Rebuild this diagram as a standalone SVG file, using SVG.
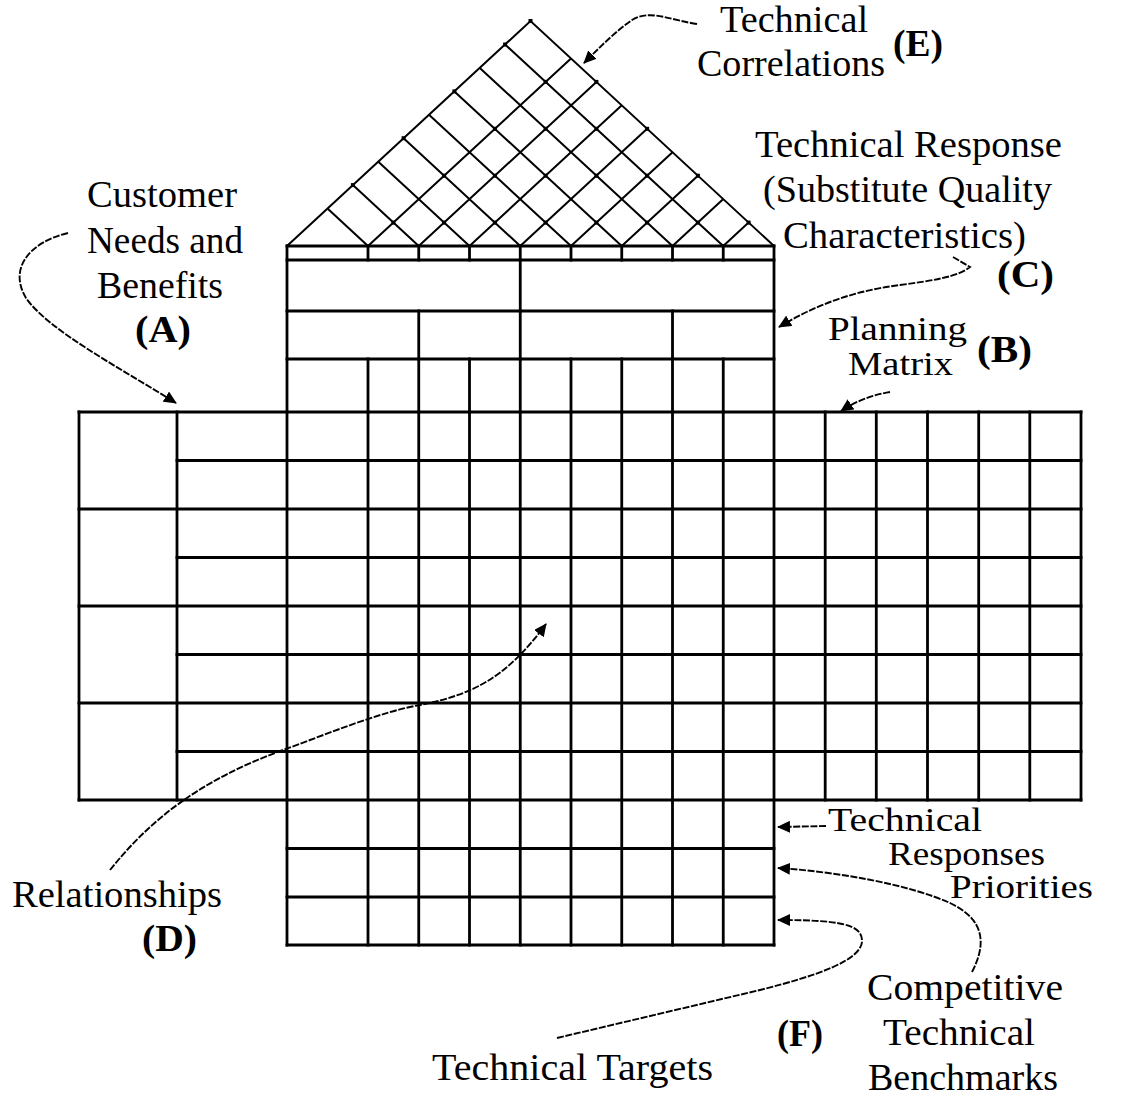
<svg xmlns="http://www.w3.org/2000/svg" width="1121" height="1099" viewBox="0 0 1121 1099">
<style>
.g{stroke:#000;stroke-width:2.8;fill:none;stroke-linecap:square}
.lat{stroke:#000;stroke-width:2;fill:none}
.dot{fill:#000}
.conn{stroke:#000;stroke-width:1.9;fill:none;stroke-dasharray:7 1.6}
.t{font-family:"Liberation Serif","Times New Roman",serif;font-size:38px;fill:#000}
.s{font-size:33px}
.b{font-weight:bold}
</style>
<defs>
<marker id="ah" markerUnits="userSpaceOnUse" markerWidth="14" markerHeight="12" refX="12" refY="6" orient="auto">
<path d="M0,0 L13,6 L0,12 z" fill="#000"/>
</marker>
</defs>
<rect width="1121" height="1099" fill="#fff"/>

<g id="roof-correlations">
<path class="lat" d="M287,246 L530.5,21 L774,246"/>
<path class="lat" d="M368,246 L571,58.4 M418.75,246 L596.4,81.9 M469.5,246 L621.8,105.3 M520.25,246 L647.1,128.8 M571,246 L672.5,152.2 M621.75,246 L697.9,175.7 M672.5,246 L723.3,199.1 M723.25,246 L748.6,222.6"/>
<path class="lat" d="M368,246 L327.5,208.6 M418.75,246 L352.9,185.1 M469.5,246 L378.3,161.7 M520.25,246 L403.6,138.2 M571,246 L429,114.8 M621.75,246 L454.4,91.4 M672.5,246 L479.8,67.9 M723.25,246 L505.1,44.5"/>
<g class="dot">
<rect x="528.5" y="19" width="4" height="4"/>
<rect x="350.9" y="183.1" width="4" height="4"/><rect x="401.6" y="136.2" width="4" height="4"/><rect x="452.4" y="89.4" width="4" height="4"/><rect x="503.1" y="42.5" width="4" height="4"/>
<rect x="391.4" y="220.6" width="4" height="4"/><rect x="442.1" y="220.6" width="4" height="4"/><rect x="492.9" y="220.6" width="4" height="4"/><rect x="543.6" y="220.6" width="4" height="4"/><rect x="594.4" y="220.6" width="4" height="4"/><rect x="645.1" y="220.6" width="4" height="4"/><rect x="695.9" y="220.6" width="4" height="4"/><rect x="746.6" y="220.6" width="4" height="4"/>
<rect x="442.1" y="173.7" width="4" height="4"/><rect x="492.9" y="173.7" width="4" height="4"/><rect x="543.6" y="173.7" width="4" height="4"/><rect x="594.4" y="173.7" width="4" height="4"/><rect x="645.1" y="173.7" width="4" height="4"/><rect x="695.9" y="173.7" width="4" height="4"/>
<rect x="492.9" y="126.8" width="4" height="4"/><rect x="543.6" y="126.8" width="4" height="4"/><rect x="594.4" y="126.8" width="4" height="4"/><rect x="645.1" y="126.8" width="4" height="4"/>
<rect x="543.6" y="79.9" width="4" height="4"/><rect x="594.4" y="79.9" width="4" height="4"/>
</g>
</g>

<g id="technical-response">
<path class="g" d="M287,246 H774 M287,260 H774 M287,311 H774 M287,359 H774"/>
<path class="g" d="M368,246 V260 M418.75,246 V260 M469.5,246 V260 M520.25,246 V260 M571,246 V260 M621.75,246 V260 M672.5,246 V260 M723.25,246 V260"/>
<path class="g" d="M520.25,260 V311"/>
<path class="g" d="M418.75,311 V359 M520.25,311 V359 M672.5,311 V359"/>
<path class="g" d="M368,359 V412 M418.75,359 V412 M469.5,359 V412 M520.25,359 V412 M571,359 V412 M621.75,359 V412 M672.5,359 V412 M723.25,359 V412"/>
</g>

<g id="customer-needs">
<path class="g" d="M79,412 V800 M177,412 V800"/>
</g>

<g id="relationships-matrix">
<path class="g" d="M79,412 H1081 M79,509 H1081 M79,606 H1081 M79,703 H1081 M79,800 H1081"/>
<path class="g" d="M177,460.5 H1081 M177,557.5 H1081 M177,654.5 H1081 M177,751.5 H1081"/>
<path class="g" d="M287,246 V945 M774,246 V945"/>
<path class="g" d="M368,412 V945 M418.75,412 V945 M469.5,412 V945 M520.25,412 V945 M571,412 V945 M621.75,412 V945 M672.5,412 V945 M723.25,412 V945"/>
</g>

<g id="planning-matrix">
<path class="g" d="M825.2,412 V800 M876.3,412 V800 M927.5,412 V800 M978.7,412 V800 M1029.8,412 V800 M1081,412 V800"/>
</g>

<g id="technical-targets">
<path class="g" d="M287,848.5 H774 M287,897 H774 M287,945 H774"/>
</g>

<g id="connectors">
<path class="conn" marker-end="url(#ah)" d="M697,24 C670,20 650,9 632,20 C616,31 600,47 584,63"/>
<path class="conn" marker-end="url(#ah)" d="M68,233 C30,242 8,268 26,298 C48,330 120,368 176,403"/>
<path class="conn" marker-end="url(#ah)" d="M953,257 L970,267 C958,277 930,281 900,285 C860,290 820,302 779,327"/>
<path class="conn" marker-end="url(#ah)" d="M890,392 C872,395 856,401 841,411"/>
<path class="conn" marker-end="url(#ah)" d="M826,826 L778,827"/>
<path class="conn" marker-end="url(#ah)" d="M972,972 C986,945 986,920 950,903 C910,885 840,872 778,868"/>
<path class="conn" marker-end="url(#ah)" d="M557,1038 L760,990 C820,975 860,960 862,942 C863,924 840,920 778,920"/>
<path class="conn" marker-end="url(#ah)" d="M110,870 C150,820 200,780 283,750 C330,733 380,712 420,705 C470,695 505,680 546,624"/>
</g>

<g id="label-e">
<text class="t" x="720" y="32" textLength="148" lengthAdjust="spacingAndGlyphs">Technical</text>
<text class="t" x="697" y="76" textLength="188" lengthAdjust="spacingAndGlyphs">Correlations</text>
<text class="t b" x="893" y="56" textLength="50" lengthAdjust="spacingAndGlyphs">(E)</text>
</g>
<g id="label-c">
<text class="t" x="755" y="157" textLength="307" lengthAdjust="spacingAndGlyphs">Technical Response</text>
<text class="t" x="763" y="202" textLength="289" lengthAdjust="spacingAndGlyphs">(Substitute Quality</text>
<text class="t" x="783" y="248" textLength="243" lengthAdjust="spacingAndGlyphs">Characteristics)</text>
<text class="t b" x="997" y="287" textLength="57" lengthAdjust="spacingAndGlyphs">(C)</text>
</g>
<g id="label-b">
<text class="t s" x="828" y="340" textLength="139" lengthAdjust="spacingAndGlyphs">Planning</text>
<text class="t s" x="848" y="375" textLength="105" lengthAdjust="spacingAndGlyphs">Matrix</text>
<text class="t b" x="977" y="362" textLength="55" lengthAdjust="spacingAndGlyphs">(B)</text>
</g>
<g id="label-a">
<text class="t" x="87" y="207" textLength="150" lengthAdjust="spacingAndGlyphs">Customer</text>
<text class="t" x="87" y="253" textLength="156" lengthAdjust="spacingAndGlyphs">Needs and</text>
<text class="t" x="97" y="298" textLength="126" lengthAdjust="spacingAndGlyphs">Benefits</text>
<text class="t b" x="135" y="342" textLength="56" lengthAdjust="spacingAndGlyphs">(A)</text>
</g>
<g id="label-priorities">
<text class="t s" x="828" y="831" textLength="154" lengthAdjust="spacingAndGlyphs">Technical</text>
<text class="t s" x="888" y="865" textLength="157" lengthAdjust="spacingAndGlyphs">Responses</text>
<text class="t s" x="950" y="898" textLength="143" lengthAdjust="spacingAndGlyphs">Priorities</text>
</g>
<g id="label-benchmarks">
<text class="t" x="867" y="1000" textLength="196" lengthAdjust="spacingAndGlyphs">Competitive</text>
<text class="t" x="883" y="1045" textLength="152" lengthAdjust="spacingAndGlyphs">Technical</text>
<text class="t" x="868" y="1090" textLength="190" lengthAdjust="spacingAndGlyphs">Benchmarks</text>
</g>
<g id="label-f">
<text class="t b" x="777" y="1046" textLength="46" lengthAdjust="spacingAndGlyphs">(F)</text>
<text class="t" x="432" y="1080" textLength="281" lengthAdjust="spacingAndGlyphs">Technical Targets</text>
</g>
<g id="label-d">
<text class="t" x="12" y="907" textLength="210" lengthAdjust="spacingAndGlyphs">Relationships</text>
<text class="t b" x="142" y="951" textLength="55" lengthAdjust="spacingAndGlyphs">(D)</text>
</g>
</svg>
